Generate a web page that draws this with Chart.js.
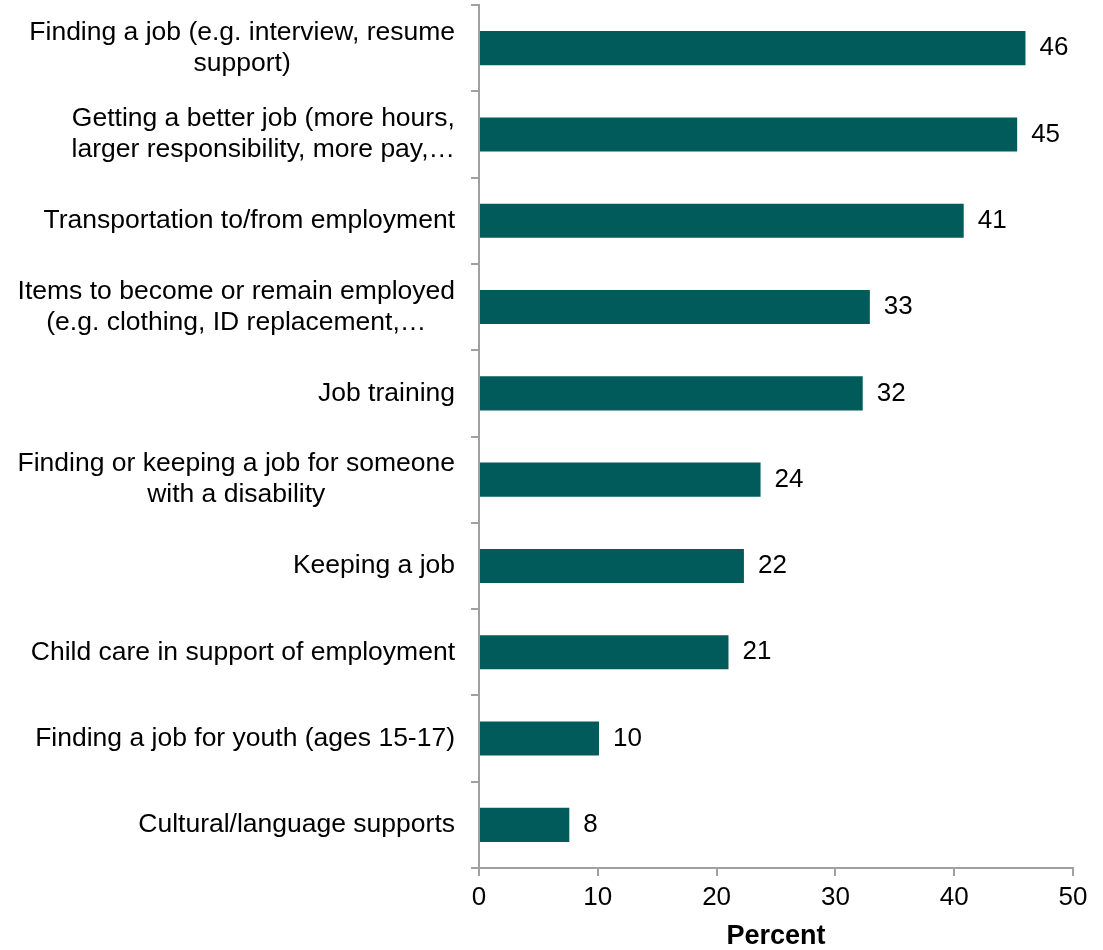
<!DOCTYPE html>
<html>
<head>
<meta charset="utf-8">
<script src="https://cdn.jsdelivr.net/npm/chart.js@4/dist/chart.umd.min.js"></script>
<style>
  html, body { margin: 0; padding: 0; background: #ffffff; }
  #wrap { width: 1103px; height: 950px; position: relative; }
</style>
</head>
<body>
<div id="wrap"><canvas id="c"></canvas></div>
<script>
const categories = [
  ["Finding a job (e.g. interview, resume", "support)"],
  ["Getting a better job (more hours,", "larger responsibility, more pay,\u2026"],
  ["Transportation to/from employment"],
  ["Items to become or remain employed", "(e.g. clothing, ID replacement,\u2026"],
  ["Job training"],
  ["Finding or keeping a job for someone", "with a disability"],
  ["Keeping a job"],
  ["Child care in support of employment"],
  ["Finding a job for youth (ages 15-17)"],
  ["Cultural/language supports"]
];
const percentValues = [46.0, 45.3, 40.8, 32.9, 32.3, 23.7, 22.3, 21.0, 10.1, 7.6];
const valueLabels = ["46", "45", "41", "33", "32", "24", "22", "21", "10", "8"];
const xTickValues = [0, 10, 20, 30, 40, 50];
const xAxisTitle = "Percent";

const FONT = "'Liberation Sans', Arial, sans-serif";
const AXIS_GRAY = '#a0a0a0';

const categoryLabelPlugin = {
  id: 'categoryLabels',
  afterDraw(chart) {
    const ctx = chart.ctx;
    const ys = chart.scales.y;
    const right = chart.chartArea.left - 24;
    const lh = 31;
    ctx.save();
    ctx.font = '26.5px ' + FONT;
    ctx.fillStyle = '#000000';
    ctx.textBaseline = 'middle';
    ctx.textAlign = 'center';
    categories.forEach((lines, i) => {
      const y = ys.getPixelForValue(i);
      let maxW = 0;
      lines.forEach(l => { maxW = Math.max(maxW, ctx.measureText(l).width); });
      const cx = right - maxW / 2;
      lines.forEach((l, j) => {
        ctx.fillText(l, cx, y + (j - (lines.length - 1) / 2) * lh);
      });
    });
    ctx.restore();
  }
};

const valueLabelPlugin = {
  id: 'valueLabels',
  afterDatasetsDraw(chart) {
    const ctx = chart.ctx;
    const meta = chart.getDatasetMeta(0);
    ctx.save();
    ctx.font = '26px ' + FONT;
    ctx.fillStyle = '#000000';
    ctx.textBaseline = 'middle';
    ctx.textAlign = 'left';
    meta.data.forEach((el, i) => {
      ctx.fillText(valueLabels[i], el.x + 14, el.y);
    });
    ctx.restore();
  }
};

new Chart(document.getElementById('c'), {
  type: 'bar',
  data: {
    labels: categories.map(l => l.join(' ')),
    datasets: [{
      data: percentValues,
      backgroundColor: '#005b5a',
      borderWidth: 0,
      categoryPercentage: 1.0,
      barPercentage: 0.395
    }]
  },
  options: {
    indexAxis: 'y',
    responsive: true,
    maintainAspectRatio: false,
    animation: false,
    layout: { padding: { left: 471, right: 30, top: 5, bottom: 0 } },
    plugins: {
      legend: { display: false },
      tooltip: { enabled: false }
    },
    scales: {
      y: {
        type: 'category',
        offset: true,
        grid: {
          offset: true,
          drawOnChartArea: false,
          drawTicks: true,
          tickLength: 8,
          color: AXIS_GRAY,
          lineWidth: 2
        },
        border: { display: true, color: AXIS_GRAY, width: 2 },
        ticks: { display: false }
      },
      x: {
        min: 0,
        max: 50,
        afterBuildTicks(scale) { scale.ticks = xTickValues.map(v => ({ value: v })); },
        afterFit(scale) { scale.height = 82; },
        grid: {
          drawOnChartArea: false,
          drawTicks: true,
          tickLength: 8,
          color: AXIS_GRAY,
          lineWidth: 2
        },
        border: { display: true, color: AXIS_GRAY, width: 2 },
        ticks: {
          color: '#000000',
          padding: 6,
          font: { family: FONT, size: 26 },
          maxRotation: 0
        },
        title: {
          display: true,
          text: xAxisTitle,
          color: '#000000',
          font: { family: FONT, size: 27, weight: 'bold', lineHeight: 1.0 },
          padding: { top: 10, bottom: 0 }
        }
      }
    }
  },
  plugins: [categoryLabelPlugin, valueLabelPlugin]
});
</script>
</body>
</html>
